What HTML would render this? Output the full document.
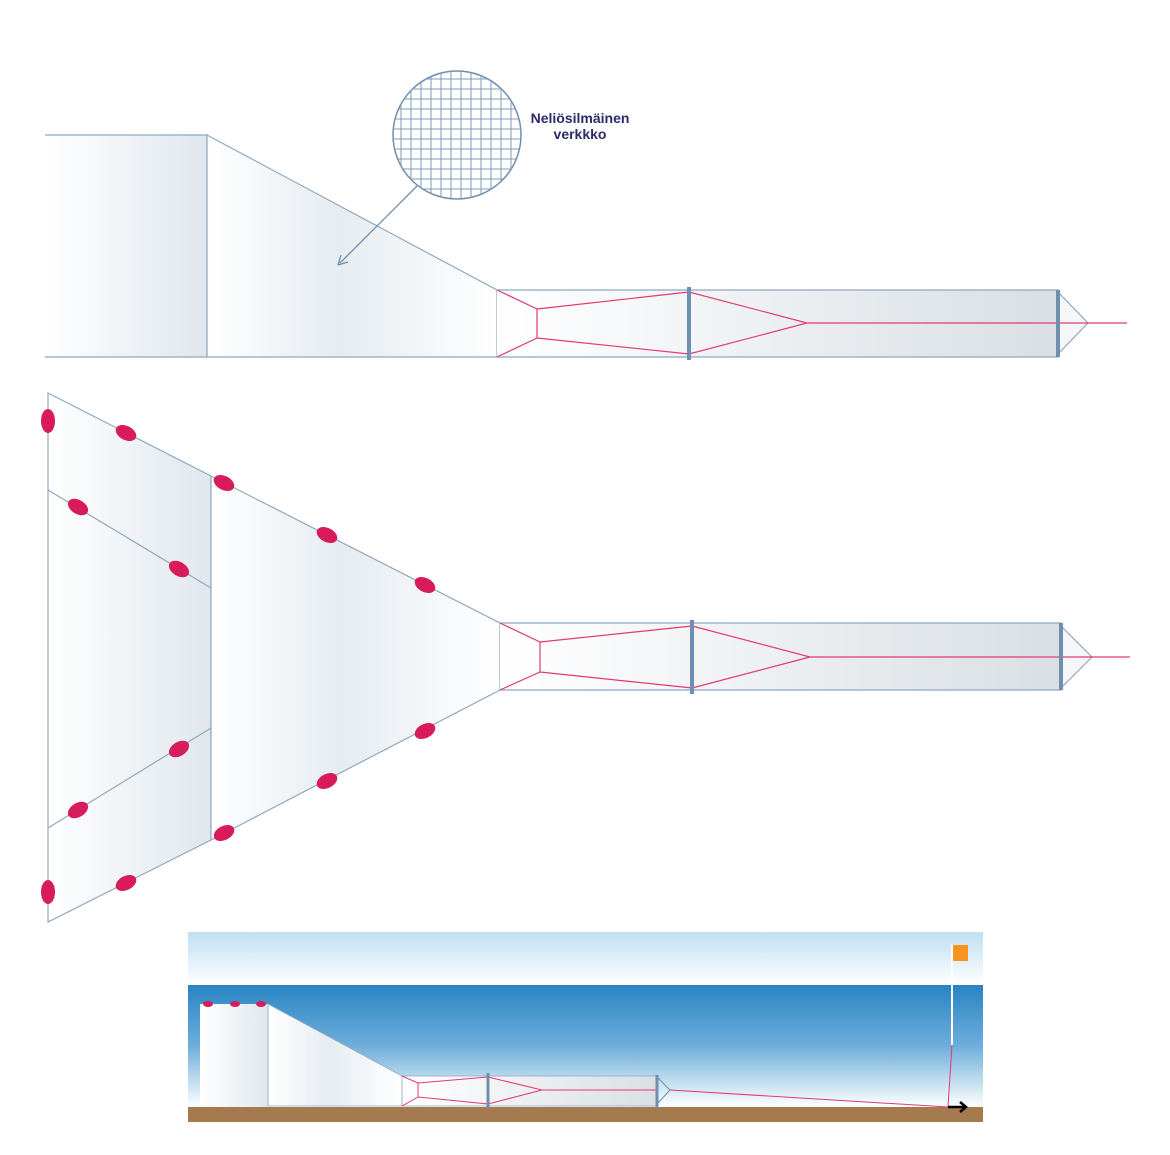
<!DOCTYPE html>
<html><head><meta charset="utf-8"><style>body{margin:0;background:#fff}svg{display:block}</style></head><body>
<svg width="1170" height="1155" viewBox="0 0 1170 1155" xmlns="http://www.w3.org/2000/svg">
<defs>
<linearGradient id="g1" x1="0" x2="1"><stop offset="0" stop-color="#fff"/><stop offset="1" stop-color="#e0e7ed"/></linearGradient>
<linearGradient id="g2" x1="0" x2="1"><stop offset="0" stop-color="#fff"/><stop offset="0.45" stop-color="#e6ecf1"/><stop offset="1" stop-color="#fff"/></linearGradient>
<linearGradient id="g3" x1="0" x2="1"><stop offset="0" stop-color="#fff"/><stop offset="1" stop-color="#d9dfe4"/></linearGradient>
<linearGradient id="sky" x1="0" y1="0" x2="0" y2="1"><stop offset="0" stop-color="#bfdff2"/><stop offset="1" stop-color="#fff"/></linearGradient>
<linearGradient id="sea" x1="0" y1="0" x2="0" y2="1"><stop offset="0" stop-color="#2884c4"/><stop offset="0.5" stop-color="#6eaedb"/><stop offset="1" stop-color="#fff"/></linearGradient>
<clipPath id="cc"><circle cx="457" cy="135" r="64"/></clipPath>
</defs>
<g stroke="#8fa8c0" stroke-width="1.2">
<rect x="45" y="135" width="162" height="222" fill="url(#g1)" stroke="none"/>
<path d="M45 135H207V357M45 357H207" fill="none"/>
<path d="M207 135L497 290V357H207Z" fill="url(#g2)"/>
<rect x="497" y="290" width="561" height="67" fill="url(#g3)" stroke="none"/>
<path d="M497 290H1058V357H497" fill="none"/>
<path d="M1058 292L1088 323L1058 354" fill="#f4f6f8"/>
</g>
<g stroke="#e33a6e" stroke-width="1.2" fill="none">
<path d="M497 290L537 309V338L497 357M537 309L689 292L807 323L689 354L537 338M807 323H1127"/>
</g>
<g stroke="#6f8fae" stroke-width="4"><path d="M689 287V360M1058 290V357"/></g>
<circle cx="457" cy="135" r="64" fill="#fff" stroke="#6f8fae" stroke-width="1.5"/>
<g clip-path="url(#cc)" stroke="#7f9cba" stroke-width="1">
<path d="M393 79H521M393 89H521M393 99H521M393 109H521M393 119H521M393 129H521M393 139H521M393 149H521M393 159H521M393 169H521M393 179H521M393 189H521"/>
<path d="M401 71V199M411 71V199M421 71V199M431 71V199M441 71V199M451 71V199M461 71V199M471 71V199M481 71V199M491 71V199M501 71V199M511 71V199"/>
</g>
<path d="M417 186L340 263" stroke="#6f8fae" stroke-width="1.3"/>
<path d="M338 265L341 255M338 265L348 262" stroke="#6f8fae" stroke-width="1.3" fill="none"/>
<text x="580" y="123" text-anchor="middle" font-family="Liberation Sans, sans-serif" font-weight="bold" font-size="14" fill="#2b2b6b">Neliösilmäinen</text>
<text x="580" y="139" text-anchor="middle" font-family="Liberation Sans, sans-serif" font-weight="bold" font-size="14" fill="#2b2b6b">verkkko</text>
<g stroke="#8fa8c0" stroke-width="1.2">
<path d="M48 393L211 476V840L48 922Z" fill="url(#g1)"/>
<path d="M211 476L500 623V690L211 840Z" fill="url(#g2)"/>
<rect x="500" y="623" width="561" height="67" fill="url(#g3)" stroke="none"/>
<path d="M500 623H1061V690H500" fill="none"/>
<path d="M1061 626L1092 657L1061 688" fill="#f4f6f8"/>
<path d="M48 490L211 588M48 828L211 728" fill="none"/>
</g>
<g stroke="#e33a6e" stroke-width="1.2" fill="none">
<path d="M500 623L540 642V672L500 690M540 642L692 626L810 657L692 688L540 672M810 657H1130"/>
</g>
<g stroke="#6f8fae" stroke-width="4"><path d="M692 620V694M1061 623V690"/></g>
<g fill="#d81b5a">
<ellipse cx="48" cy="421" rx="7" ry="12"/><ellipse cx="48" cy="892" rx="7" ry="12"/>
<ellipse cx="126" cy="433" rx="11" ry="7" transform="rotate(27 126 433)"/>
<ellipse cx="224" cy="483" rx="11" ry="7" transform="rotate(27 224 483)"/>
<ellipse cx="327" cy="535" rx="11" ry="7" transform="rotate(27 327 535)"/>
<ellipse cx="425" cy="585" rx="11" ry="7" transform="rotate(27 425 585)"/>
<ellipse cx="78" cy="507" rx="11" ry="7" transform="rotate(31 78 507)"/>
<ellipse cx="179" cy="569" rx="11" ry="7" transform="rotate(31 179 569)"/>
<ellipse cx="179" cy="749" rx="11" ry="7" transform="rotate(-31 179 749)"/>
<ellipse cx="78" cy="810" rx="11" ry="7" transform="rotate(-31 78 810)"/>
<ellipse cx="126" cy="883" rx="11" ry="7" transform="rotate(-27 126 883)"/>
<ellipse cx="224" cy="833" rx="11" ry="7" transform="rotate(-27 224 833)"/>
<ellipse cx="327" cy="781" rx="11" ry="7" transform="rotate(-27 327 781)"/>
<ellipse cx="425" cy="731" rx="11" ry="7" transform="rotate(-27 425 731)"/>
</g>
<rect x="188" y="932" width="795" height="53" fill="url(#sky)"/>
<rect x="188" y="985" width="795" height="122" fill="url(#sea)"/>
<rect x="188" y="1107" width="795" height="15" fill="#a67a4f"/>
<rect x="200" y="1004" width="68" height="103" fill="url(#g1)"/>
<path d="M268 1004L402 1076V1106H268Z" fill="url(#g2)" stroke="#8fa8c0" stroke-width="0.8"/>
<rect x="402" y="1076" width="255" height="30" fill="url(#g3)" stroke="#8fa8c0" stroke-width="0.8"/>
<path d="M657 1077L670 1090L657 1104" fill="none" stroke="#6f8fae"/>
<g stroke="#e33a6e" stroke-width="1" fill="none">
<path d="M402 1076L418 1083V1097L402 1106M418 1083L488 1077L542 1090L488 1104L418 1097M542 1090H657M670 1090L948 1107L952 1045"/>
</g>
<g stroke="#6f8fae" stroke-width="3"><path d="M488 1073V1108M657 1075V1108"/></g>
<g fill="#d81b5a"><ellipse cx="208" cy="1004" rx="5" ry="3"/><ellipse cx="235" cy="1004" rx="5" ry="3"/><ellipse cx="261" cy="1004" rx="5" ry="3"/></g>
<path d="M952 945V1045" stroke="#fff" stroke-width="2"/>
<rect x="953" y="945" width="15" height="16" fill="#f7941d"/>
<path d="M948 1107H965M960 1102L966 1107L960 1112" stroke="#000" stroke-width="2.5" fill="none"/>
</svg>
</body></html>
